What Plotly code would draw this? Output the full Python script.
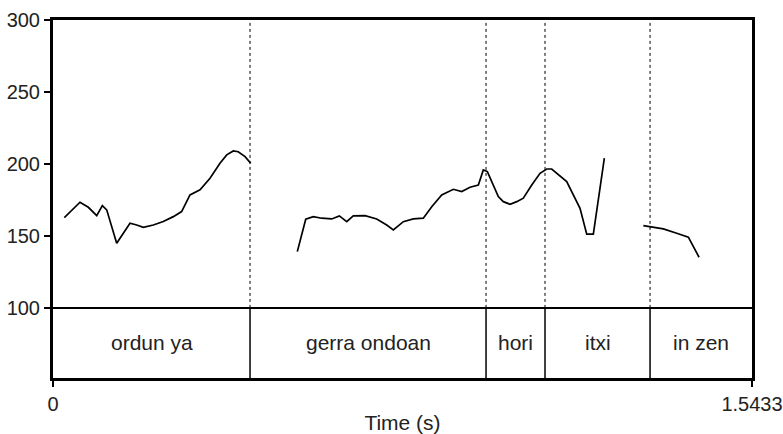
import plotly.graph_objects as go

# Pitch contour (time in s, F0 in Hz), three voiced stretches
seg1_t = [0.025, 0.0596, 0.078, 0.0965, 0.109, 0.1186, 0.1406, 0.170, 0.1848, 0.1994, 0.2215,
          0.2435, 0.2656, 0.273, 0.284, 0.3025, 0.3246, 0.3467, 0.3687, 0.3835, 0.398, 0.409,
          0.424, 0.4365]
seg1_f = [162.7, 173.4, 169.9, 164.1, 171.0, 168.1, 144.9, 158.8, 157.6, 156.0, 157.6,
          160.0, 163.4, 164.6, 166.9, 178.5, 182.0, 190.1, 200.5, 206.3, 209.0, 208.5,
          205.1, 200.5]

seg2_t = [0.5394, 0.558, 0.5747, 0.5933, 0.6154, 0.6322, 0.6485, 0.663, 0.6889, 0.7147, 0.7368,
          0.7514, 0.7735, 0.7955, 0.8176, 0.8362, 0.8582, 0.8839, 0.9024, 0.9207, 0.9391, 0.9501,
          0.959, 0.9722, 0.9832, 0.9943, 1.0091, 1.0239, 1.0384, 1.057, 1.0753, 1.0901, 1.1011,
          1.1342, 1.1636, 1.1784, 1.193, 1.2173]
seg2_f = [139.1, 161.6, 163.4, 162.3, 161.8, 163.9, 159.9, 163.9, 164.1, 161.8, 157.6,
          154.2, 159.9, 161.8, 162.3, 170.3, 178.5, 182.4, 180.8, 183.8, 185.4, 195.8,
          194.7, 185.4, 177.3, 173.8, 172.0, 173.8, 176.2, 185.4, 193.5, 196.5, 196.5,
          187.7, 169.2, 151.2, 151.2, 204.0]

seg3_t = [1.3034, 1.3476, 1.3771, 1.4028, 1.4264]
seg3_f = [157.2, 154.9, 151.9, 149.1, 135.2]

# TextGrid tier
boundaries = [0.435, 0.9561, 1.0863, 1.3182]
labels = ["ordun ya", "gerra ondoan", "hori", "itxi", "in zen"]

t_start, t_end = 0.0, 1.5433
f_min, f_max = 100, 300
tier_bottom = 51.3
y_ticks = [100, 150, 200, 250, 300]

FONT = "Liberation Sans, Arial, sans-serif"

xs = seg1_t + [None] + seg2_t + [None] + seg3_t
ys = seg1_f + [None] + seg2_f + [None] + seg3_f

fig = go.Figure()
fig.add_trace(go.Scatter(x=xs, y=ys, mode="lines", connectgaps=False,
                         line=dict(color="black", width=1.7), hoverinfo="skip"))

shapes = []
shapes.append(dict(type="line", xref="x", yref="y", x0=t_start, x1=t_end, y0=f_min, y1=f_min,
                   line=dict(color="black", width=2)))
for b in boundaries:
    shapes.append(dict(type="line", xref="x", yref="y", x0=b, x1=b, y0=f_min, y1=f_max,
                       line=dict(color="black", width=1, dash="dot")))
    shapes.append(dict(type="line", xref="x", yref="y", x0=b, x1=b, y0=tier_bottom, y1=f_min,
                       line=dict(color="black", width=1.5)))

edges = [t_start] + boundaries + [t_end]
annotations = []
for i, lab in enumerate(labels):
    annotations.append(dict(x=(edges[i] + edges[i + 1]) / 2, y=(tier_bottom + f_min) / 2,
                            xref="x", yref="y", text=lab, showarrow=False,
                            font=dict(family=FONT, size=21, color="#222")))

fig.update_layout(
    width=783, height=434,
    margin=dict(l=53, r=31, t=20, b=56),
    paper_bgcolor="white", plot_bgcolor="white",
    showlegend=False,
    shapes=shapes, annotations=annotations,
    font=dict(family=FONT, size=20, color="#222"),
)
fig.update_xaxes(range=[t_start, t_end], tickvals=[t_start, t_end], ticktext=["0", "1.5433"],
                 automargin=False,
                 showgrid=False, zeroline=False, showline=True, mirror=True,
                 linecolor="black", linewidth=3, ticks="outside", ticklen=6, tickwidth=2,
                 tickcolor="black", tickfont=dict(size=20),
                 title=dict(text="Time (s)", font=dict(size=21), standoff=4))
fig.update_yaxes(range=[tier_bottom, f_max], tickvals=y_ticks, automargin=False,
                 showgrid=False, zeroline=False, showline=True, mirror=True,
                 linecolor="black", linewidth=3, ticks="outside", ticklen=6, tickwidth=2,
                 tickcolor="black", tickfont=dict(size=20))

fig.write_html(
    "out.html",
    config={"displayModeBar": False},
    post_script="document.body.style.margin='0';document.body.style.overflow='hidden';",
)
